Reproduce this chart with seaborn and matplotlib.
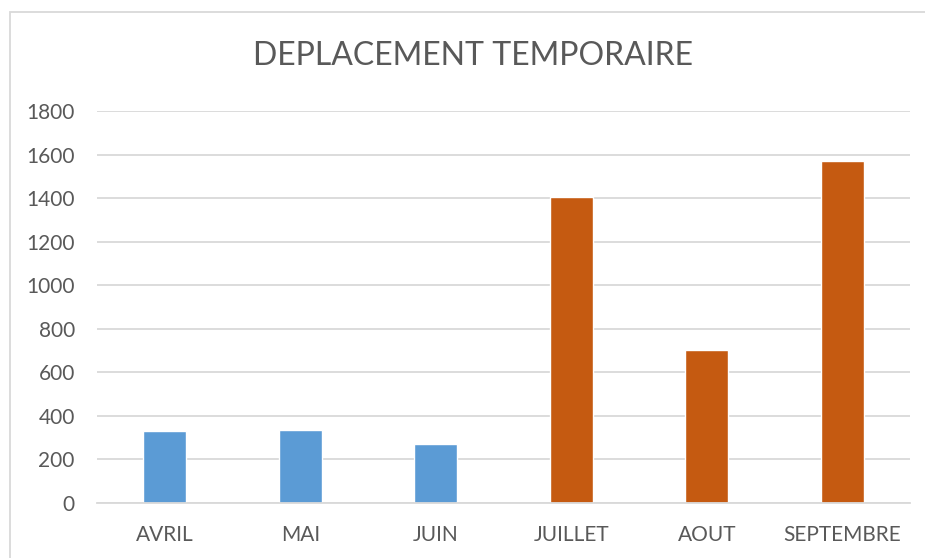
import matplotlib
matplotlib.use("Agg")
import matplotlib.pyplot as plt
import pandas as pd
import seaborn as sns
from matplotlib.patches import Rectangle

months = ["AVRIL", "MAI", "JUIN", "JUILLET", "AOUT", "SEPTEMBRE"]
values = [329, 333, 269, 1404, 702, 1569]
bar_colors = ["#5B9BD5", "#5B9BD5", "#5B9BD5", "#C55A11", "#C55A11", "#C55A11"]
y_ticks = [0, 200, 400, 600, 800, 1000, 1200, 1400, 1600, 1800]

df = pd.DataFrame({"mois": months, "valeur": values})

sns.set_theme(style="white")
plt.rcParams["font.family"] = ["Lato", "DejaVu Sans"]

fig = plt.figure(figsize=(9.25, 5.58), dpi=100)
ax = fig.add_axes([97 / 925, 1 - 503 / 558, (910 - 97) / 925, (503 - 111) / 558])

sns.barplot(data=df, x="mois", y="valeur", hue="mois", palette=bar_colors,
            width=0.317, legend=False, ax=ax, saturation=1)

ax.set_ylim(0, 1800)
ax.set_yticks(y_ticks)
ax.set_xlim(-0.5, len(months) - 0.5)
ax.set_xlabel("")
ax.set_ylabel("")
ax.grid(axis="y", color="#d9d9d9", linewidth=1.3)
ax.set_axisbelow(True)
for side in ["top", "right", "left"]:
    ax.spines[side].set_visible(False)
ax.spines["bottom"].set_color("#d9d9d9")
ax.spines["bottom"].set_linewidth(1.3)
ax.tick_params(axis="both", length=0, labelsize=15, colors="#595959")
ax.tick_params(axis="y", pad=16)
ax.tick_params(axis="x", pad=16)

fig.text(473 / 925, 1 - 56 / 558, "DEPLACEMENT TEMPORAIRE", ha="center", va="center",
         fontsize=23, color="#595959")

# chart frame
fig.patches.append(Rectangle((9.5 / 925, -0.01), 1.0, 1 - 12 / 558 + 0.01,
                             transform=fig.transFigure, fill=False,
                             edgecolor="#d9d9d9", linewidth=1.3))

fig.savefig("out.png", dpi=100)
